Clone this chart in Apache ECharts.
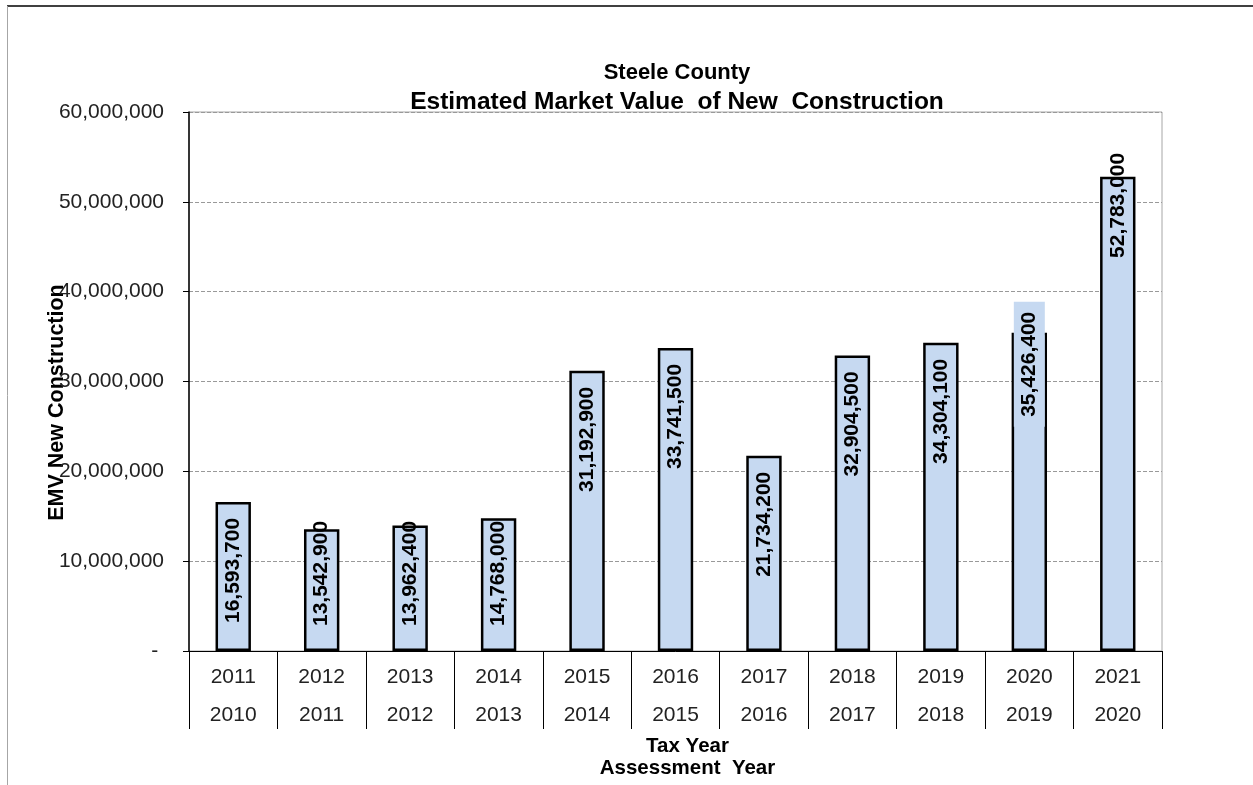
<!DOCTYPE html>
<html>
<head>
<meta charset="utf-8">
<script src="https://cdn.jsdelivr.net/npm/echarts@6/dist/echarts.min.js"></script>
<style>
  html, body { margin: 0; padding: 0; background: #fff; }
  #chart { width: 1253px; height: 785px; }
</style>
</head>
<body>
<div id="chart"></div>
<script>
// 数据
var taxYears = ['2011', '2012', '2013', '2014', '2015', '2016', '2017', '2018', '2019', '2020', '2021'];
var assessYears = ['2010', '2011', '2012', '2013', '2014', '2015', '2016', '2017', '2018', '2019', '2020'];
var emvValues = [16593700, 13542900, 13962400, 14768000, 31192900, 33741500, 21734200, 32904500, 34304100, 35426400, 52783000];
var yTicks = [0, 10000000, 20000000, 30000000, 40000000, 50000000, 60000000];

(function () {
  var myEcharts = echarts.init(document.getElementById('chart'));
  var font = 'Liberation Sans, Arial, sans-serif';
  var barColor = '#c6d9f1';

  // 标签位置：矮柱子放底部，高柱子放顶部
  var plotH = 539, yMax = yTicks[yTicks.length - 1];
  // 旋转后 offset 的 x 方向就是屏幕向上
  var labelShift = { 9: 47, 10: 40 };
  var barData = emvValues.map(function (v, i) {
    var h = v / yMax * plotH;
    var label;
    if (h < 146) {
      label = { position: 'insideBottom', align: 'left', distance: 25 };
    } else {
      label = { position: 'insideTop', align: 'right', distance: 16 };
    }
    if (labelShift[i]) label.offset = [labelShift[i], 0];
    if (i === 9) {
      label.backgroundColor = barColor;
      label.padding = [5, 10, 5, 10];
    }
    return { value: v, label: label };
  });

  var option = {
    animation: false,
    textStyle: { fontFamily: font },
    title: {
      text: '{a|Steele County}\n{b|Estimated Market Value  of New  Construction}',
      left: 672,
      top: 54,
      textAlign: 'center',
      textStyle: {
        fontFamily: font,
        rich: {
          a: { fontSize: 22, fontWeight: 'bold', color: '#000', lineHeight: 28, fontFamily: font },
          b: { fontSize: 24.5, fontWeight: 'bold', color: '#000', lineHeight: 30, fontFamily: font }
        }
      }
    },
    grid: {
      left: 189, right: 91, top: 112, bottom: 134,
      containLabel: false, outerBoundsMode: 'none',
      show: true, borderColor: '#a6a6a6', borderWidth: 1
    },
    graphic: [
      { type: 'line', shape: { x1: 7, y1: 6, x2: 1253, y2: 6 }, style: { stroke: '#000', lineWidth: 1.5 } },
      { type: 'line', shape: { x1: 7.5, y1: 6, x2: 7.5, y2: 785 }, style: { stroke: '#a6a6a6', lineWidth: 1 } }
    ],
    xAxis: [
      {
        type: 'category',
        data: taxYears,
        position: 'bottom',
        name: 'Tax Year',
        nameLocation: 'middle',
        nameGap: 85,
        nameMoveOverlap: false,
        nameTextStyle: { fontSize: 20.5, fontWeight: 'bold', color: '#000', padding: [0, 0, 0, 24] },
        axisLine: { lineStyle: { color: '#000', width: 1 } },
        axisTick: { show: true, length: 78, lineStyle: { color: '#000', width: 1 } },
        axisLabel: { color: '#222', fontSize: 21, margin: 16 }
      },
      {
        type: 'category',
        data: assessYears,
        position: 'bottom',
        offset: 38,
        name: 'Assessment  Year',
        nameLocation: 'middle',
        nameGap: 69,
        nameMoveOverlap: false,
        nameTextStyle: { fontSize: 20.5, fontWeight: 'bold', color: '#000', padding: [0, 0, 0, 24] },
        axisLine: { show: false },
        axisTick: { show: false },
        axisLabel: { color: '#222', fontSize: 21, margin: 16 }
      }
    ],
    yAxis: {
      type: 'value',
      min: yTicks[0],
      max: yMax,
      interval: yTicks[1] - yTicks[0],
      name: 'EMV New Construction',
      nameLocation: 'middle',
      nameRotate: 90,
      nameGap: 121,
      nameMoveOverlap: false,
      nameTextStyle: { fontSize: 21.5, fontWeight: 'bold', color: '#000', padding: [0, 42, 0, 0] },
      axisLine: { show: true, lineStyle: { color: '#000', width: 1.5 } },
      axisTick: { show: true, length: 6, lineStyle: { color: '#000' } },
      axisLabel: {
        color: '#222',
        fontSize: 21,
        margin: 25,
        formatter: function (v) {
          return v === 0 ? '- ' : v.toLocaleString('en-US');
        }
      },
      splitLine: { show: true, lineStyle: { color: '#999', type: [4, 2], width: 1 } }
    },
    series: [
      {
        name: 'EMV',
        type: 'bar',
        xAxisIndex: 0,
        data: barData,
        barWidth: '40%',
        itemStyle: { color: barColor, borderColor: '#000', borderWidth: 2.5 },
        label: {
          show: true,
          rotate: 90,
          verticalAlign: 'middle',
          fontSize: 21,
          fontWeight: 'bold',
          color: '#000',
          fontFamily: font,
          formatter: function (p) { return p.value.toLocaleString('en-US'); }
        }
      }
    ]
  };
  myEcharts.setOption(option);
  window.addEventListener('resize', function () {
    myEcharts.resize();
  });
})();
</script>
</body>
</html>
